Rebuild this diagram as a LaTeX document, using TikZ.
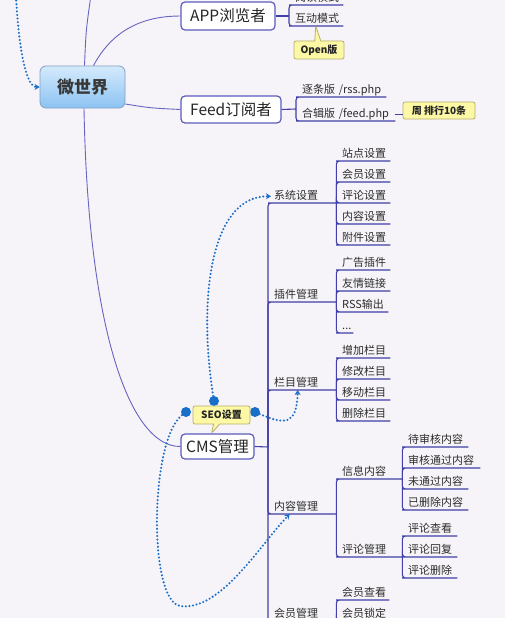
\documentclass[tikz,border=0pt]{standalone}
\usepackage{fontspec}
\setmainfont{Noto Sans CJK SC}
\usetikzlibrary{arrows.meta,shapes.callouts}

\definecolor{latar}{RGB}{246,244,248}
\definecolor{garispohon}{RGB}{64,64,168}
\definecolor{garisakar}{RGB}{104,100,192}
\definecolor{garistopik}{RGB}{92,92,190}
\definecolor{teksdaun}{RGB}{45,45,45}
\definecolor{birurel}{RGB}{24,110,200}
\definecolor{isicatatan}{RGB}{252,248,165}
\definecolor{tepicatatan}{RGB}{185,175,110}
\definecolor{akaratas}{RGB}{212,234,252}
\definecolor{akarbawah}{RGB}{140,195,242}
\definecolor{tepiakar}{RGB}{130,160,195}

\begin{document}
\begin{tikzpicture}[x=1pt,y=-1pt,
    tree/.style={draw=garispohon,line width=1.1pt},
    cabang/.style={draw=garisakar,line width=0.9pt},
    leaf/.style={anchor=south west,inner xsep=3pt,inner ysep=1pt,text width=#1,align=left,
        text height=8.5pt,text depth=2.5pt,font=\fontsize{11}{12}\selectfont,text=teksdaun},
    topik/.style={draw=garistopik,line width=1.2pt,fill=white,rounded corners=4pt,
        font=\fontsize{15.5}{17}\selectfont,text=black!85,inner sep=0pt},
    kotakcatatan/.style={draw=tepicatatan,fill=isicatatan,line width=0.8pt,rounded corners=2pt,
        font=\bfseries\fontsize{10}{11}\selectfont,text=black!85,inner sep=0pt},
    catatan/.style={kotakcatatan,rectangle callout,callout pointer width=6pt},
    pegangan/.style={circle,fill=birurel,inner sep=0pt,minimum size=10pt},
    rel/.style={birurel,line width=2.3pt,line cap=round,dash pattern=on 0pt off 3.6pt,
        -{Stealth[length=5pt,width=6pt]}}]
    % Latar dan batas gambar
    \useasboundingbox (0,0) rectangle (505,618);
    \clip (0,0) rectangle (505,618);
    \fill[latar] (0,0) rectangle (505,618);

    % Simpul akar dan topik utama
    \node[draw=tepiakar,line width=0.8pt,rounded corners=6pt,top color=akaratas,bottom color=akarbawah,
        minimum width=85pt,minimum height=42pt,font=\bfseries\fontsize{17}{18}\selectfont,text=black!78]
        (weishijie) at (82.5,87) {微世界};
    \node[topik,minimum width=94pt,minimum height=28pt] (app) at (228,16) {APP浏览者};
    \node[topik,minimum width=100pt,minimum height=27pt] (feed) at (231,109.5) {Feed订阅者};
    \node[topik,minimum width=73pt,minimum height=25pt] (cms) at (217.5,446.5) {CMS管理};
    \coordinate (atas) at (91,-5);
    \coordinate (luar) at (16,-3);

    % Garis dari akar
    \draw[cabang] ([xshift=2pt]weishijie.north) .. controls (86,30) .. (atas);
    \draw[cabang] ([xshift=11pt]weishijie.north) .. controls (115,25) and (150,16) .. (app.west);
    \draw[cabang] ([yshift=-17pt]weishijie.east) .. controls (150,108) .. (feed.west);
    \draw[cabang] ([xshift=1.5pt]weishijie.south) .. controls (88,330) and (130,447) .. (cms.west);
    \draw[rel] (luar) .. controls (19,50) and (26,87) .. (weishijie.west);

    % APP浏览者
    \coordinate (appj) at (289,16);
    \draw[tree] (app.east) -- (appj);
    \node[leaf=45pt] (yuedu) at (292,5) {阅读模式};
    \node[leaf=45pt] (hudong) at (292,26) {互动模式};
    \foreach \n in {yuedu,hudong}
        \draw[tree,rounded corners=3pt] (appj) |- (\n.south west) -- (\n.south east);
    \node[catatan,minimum width=50pt,minimum height=18pt,callout absolute pointer={([xshift=-2pt]hudong.south)}]
        (openban) at (319,50) {Open版};

    % Feed订阅者
    \coordinate (feedj) at (296,109);
    \draw[tree] (feed.east) -- (feedj);
    \node[leaf=81pt] (rss) at (299,97) {逐条版 /rss.php};
    \node[leaf=90pt] (heji) at (299,121) {合辑版 /feed.php};
    \foreach \n in {rss,heji}
        \draw[tree,rounded corners=3pt] (feedj) |- (\n.south west) -- (\n.south east);
    \node[kotakcatatan,minimum width=72pt,minimum height=17pt] (zhou) at (439,110.5) {周 排行10条};
    \draw[tree] (heji.east) -- (heji.east -| zhou.west);

    % CMS管理 dan cabangnya
    \coordinate (cmsj) at (268,447);
    \draw[tree] (cms.east) -- (cmsj);
    \foreach \n/\t/\y in {xitong/系统设置/203,chajian/插件管理/302,lanmu/栏目管理/390,neirong/内容管理/514,huiyuan/会员管理/621}{
        \node[leaf=59pt] (\n) at (271,\y) {\t};
        \draw[tree,rounded corners=3pt] (cmsj) |- (\n.south west) -- (\n.south east);
    }

    % Sistem
    \foreach \n/\t/\y in {xt1/站点设置/161,xt2/会员设置/182,xt3/评论设置/203,xt4/内容设置/224,xt5/附件设置/245}{
        \node[leaf=45pt] (\n) at (339,\y) {\t};
        \draw[tree,rounded corners=3pt] (xitong.south east) |- (\n.south west) -- (\n.south east);
    }

    % Plugin
    \foreach \n/\t/\y/\w in {cj1/广告插件/270/45pt,cj2/友情链接/291/45pt,cj3/RSS输出/312/43pt}{
        \node[leaf=\w] (\n) at (339,\y) {\t};
        \draw[tree,rounded corners=3pt] (chajian.south east) |- (\n.south west) -- (\n.south east);
    }
    \node[leaf=8pt] (cj4) at (339,333) {...};
    \draw[tree,rounded corners=3pt] (chajian.south east) |- (cj4.south west) -- (cj4.south east);

    % Kolom
    \foreach \n/\t/\y in {lm1/增加栏目/358,lm2/修改栏目/379,lm3/移动栏目/400,lm4/删除栏目/421}{
        \node[leaf=45pt] (\n) at (339,\y) {\t};
        \draw[tree,rounded corners=3pt] (lanmu.south east) |- (\n.south west) -- (\n.south east);
    }

    % Konten
    \foreach \n/\t/\y in {xinxi/信息内容/479,pinglun/评论管理/557}{
        \node[leaf=57pt] (\n) at (339,\y) {\t};
        \draw[tree,rounded corners=3pt] (neirong.south east) |- (\n.south west) -- (\n.south east);
    }
    \foreach \n/\t/\y/\w in {xx1/待审核内容/447/57pt,xx2/审核通过内容/468/69pt,xx3/未通过内容/489/57pt,xx4/已删除内容/510/57pt}{
        \node[leaf=\w] (\n) at (405,\y) {\t};
        \draw[tree,rounded corners=3pt] (xinxi.south east) |- (\n.south west) -- (\n.south east);
    }
    \foreach \n/\t/\y in {pl1/评论查看/536,pl2/评论回复/557,pl3/评论删除/578}{
        \node[leaf=46pt] (\n) at (405,\y) {\t};
        \draw[tree,rounded corners=3pt] (pinglun.south east) |- (\n.south west) -- (\n.south east);
    }

    % Anggota
    \foreach \n/\t/\y in {hy1/会员查看/600,hy2/会员锁定/621}{
        \node[leaf=44pt] (\n) at (339,\y) {\t};
        \draw[tree,rounded corners=3pt] (huiyuan.south east) |- (\n.south west) -- (\n.south east);
    }

    % Hubungan SEO设置
    \node[pegangan] (dtop) at (214,401) {};
    \node[pegangan] (dleft) at (186,412) {};
    \node[pegangan] (dright) at (255,412) {};
    \draw[rel] (dtop) .. controls (198,300) and (210,196) .. (xitong.west);
    \draw[rel] (dright) .. controls (285,425) and (297,425) .. ([xshift=-6pt]lanmu.south);
    \draw[rel] (dleft) .. controls (150,440) and (148,600) .. (180,606)
        .. controls (220,612) and (260,545) .. ([xshift=-14pt]neirong.south);
    \node[catatan,minimum width=57pt,minimum height=18pt,callout absolute pointer={([xshift=-6pt]cms.north)}]
        (seo) at (221.5,415) {SEO设置};
\end{tikzpicture}
\end{document}
